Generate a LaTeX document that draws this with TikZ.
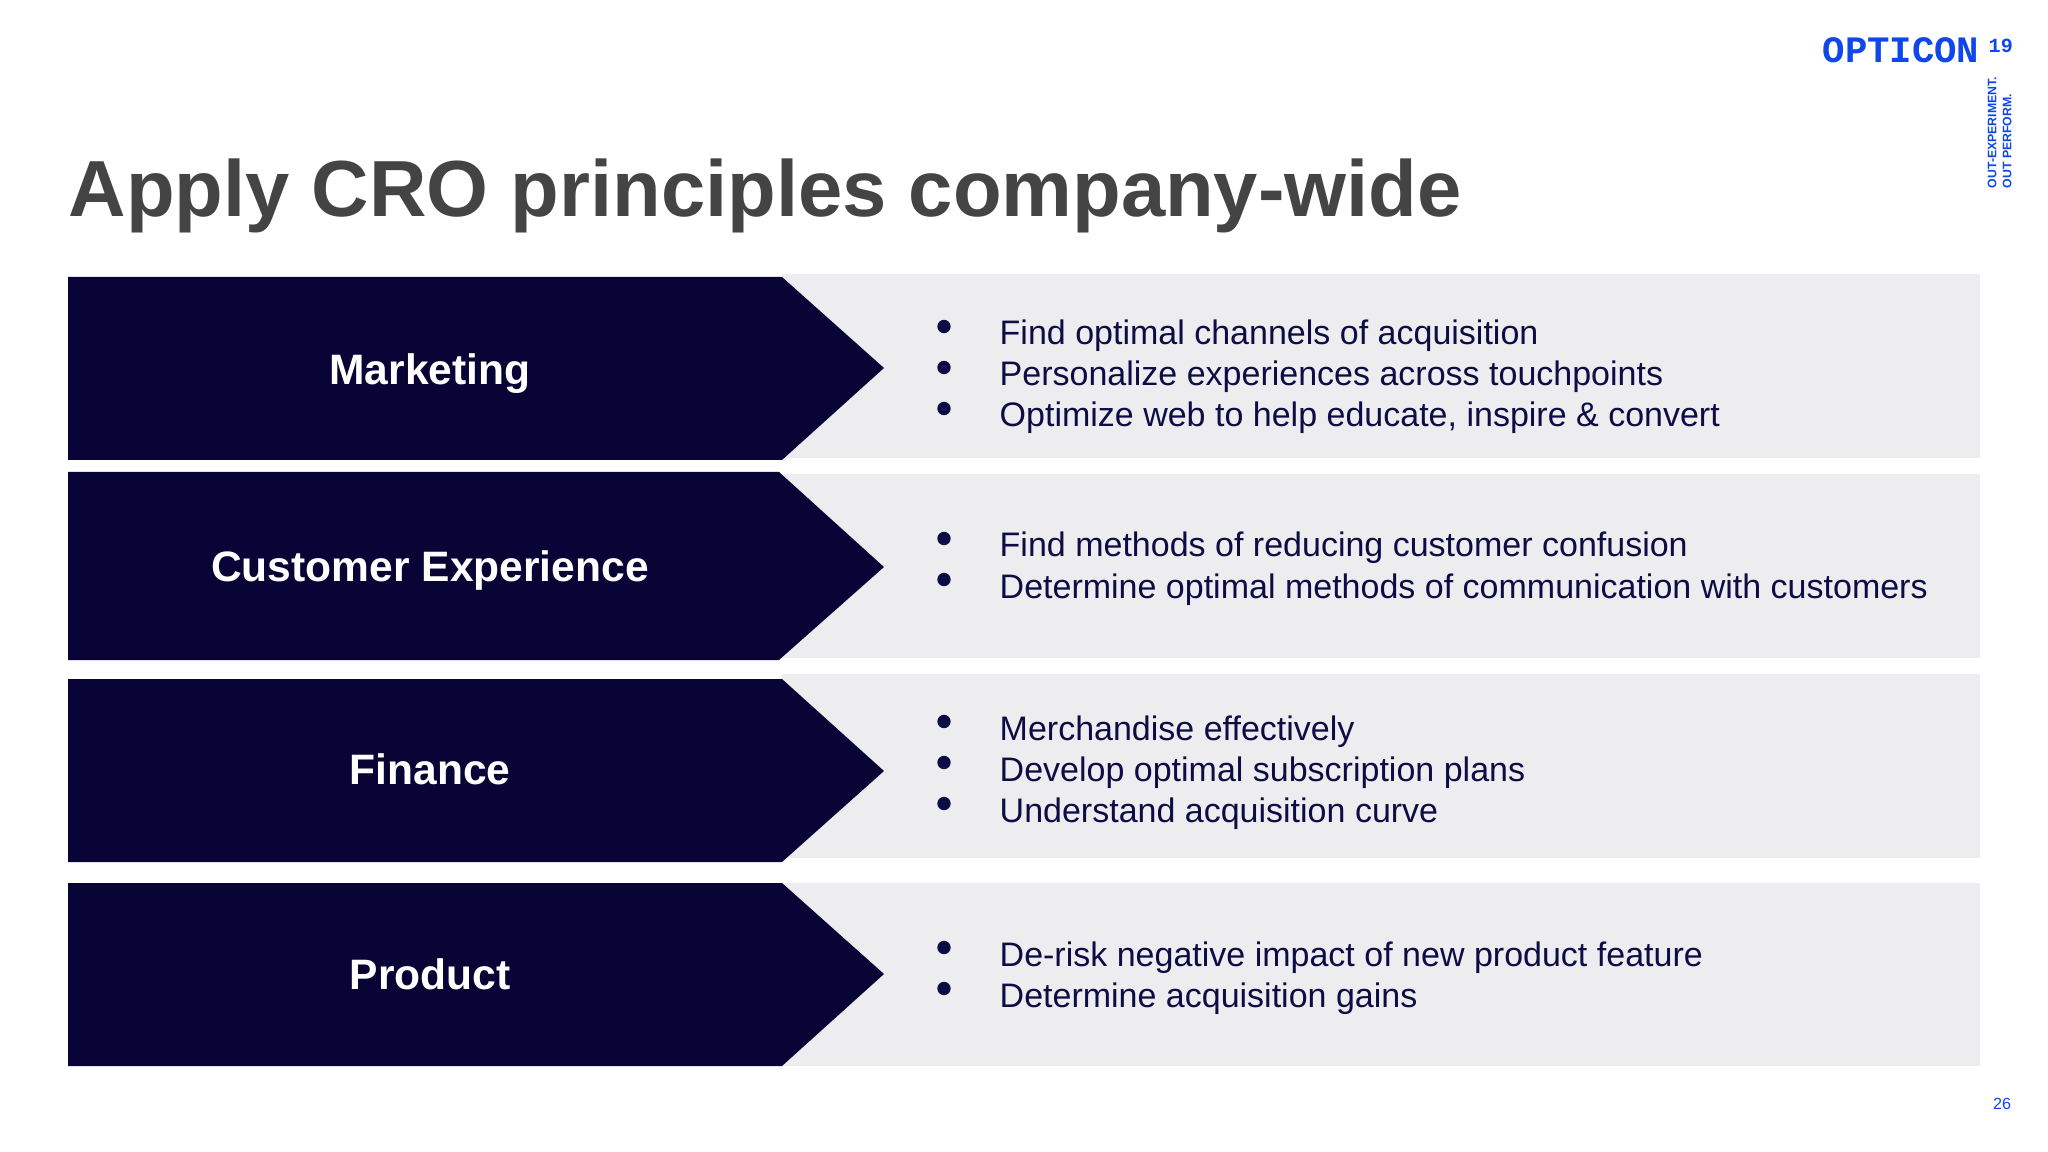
\documentclass[tikz,border=0pt]{standalone}
\usepackage{fontspec}
\setmainfont{Liberation Sans}
\setmonofont{Liberation Mono}
\usepackage{xcolor}
\definecolor{croNavy}{HTML}{080536}
\definecolor{croBand}{HTML}{EDEDEF}
\definecolor{croInk}{HTML}{0E0C44}
\definecolor{croTitle}{HTML}{444444}
\definecolor{croBlue}{HTML}{0F47EA}

\begin{document}
\begin{tikzpicture}[x=0.01cm, y=-0.01cm,
  band/.style={fill=croBand},
  arrowbox/.style={fill=croNavy},
  heading/.style={font=\bfseries\fontsize{12.1}{15}\selectfont, white, anchor=base, inner sep=0pt},
  item/.style={font=\fontsize{9.67}{12}\selectfont, croInk, anchor=base west, inner sep=0pt},
  bullet/.style={circle, fill=croInk, inner sep=0pt, minimum size=3.8pt},
  logo/.style={croBlue, inner sep=0pt}
]
\useasboundingbox (0,0) rectangle (2048,1152);
% ── Title ──────────────────────
\node[font=\bfseries\fontsize{22.63}{27}\selectfont, croTitle, anchor=base west, inner sep=0pt] (title) at (68,217) {Apply CRO principles company-wide};
% ── Logo ──────────────────────
\node[logo, font=\ttfamily\bfseries\fontsize{10.6}{12}\selectfont, anchor=base west] (opticon) at (1822,63) {OPTICON};
\node[logo, font=\ttfamily\bfseries\fontsize{5.7}{7}\selectfont, anchor=base west] (edition) at (1988,53) {19};
\node[logo, font=\bfseries\fontsize{3.5}{5}\selectfont, rotate=90, anchor=west] (tagone) at (1992,189) {OUT-EXPERIMENT.};
\node[logo, font=\bfseries\fontsize{3.5}{5}\selectfont, rotate=90, anchor=west] (tagtwo) at (2007,189) {OUT PERFORM.};
% ── Rows ──────────────────────
\foreach \bandtop/\bandbot/\top/\bot/\shoulder/\mid/\name/\base in {
  274/458/277/460/782/368/Marketing/385,
  474/658/472/660/779/567/Customer Experience/581,
  674/858/679/862/782/771/Finance/784,
  883/1066/883/1066/782/974/Product/989} {
  \fill[band] (782,\bandtop) rectangle (1980,\bandbot);
  \fill[arrowbox] (68,\top) -- (\shoulder,\top) -- (884,\mid) -- (\shoulder,\bot) -- (68,\bot) -- cycle;
  \node[heading] (head-\base) at (430,\base) {\name};
}
% ── Bullet lists ──────────────────────
\foreach \base/\entry in {
  345/Find optimal channels of acquisition,
  386/Personalize experiences across touchpoints,
  427/Optimize web to help educate{,} inspire \& convert,
  557/Find methods of reducing customer confusion,
  598/Determine optimal methods of communication with customers,
  740/Merchandise effectively,
  781/Develop optimal subscription plans,
  822/Understand acquisition curve,
  966/De-risk negative impact of new product feature,
  1007/Determine acquisition gains} {
  \node[bullet] (dot-\base) at (944,\base-18.5) {};
  \node[item] (item-\base) at (999,\base) {\entry};
}
% ── Page number ──────────────────────
\node[logo, font=\fontsize{4.6}{6}\selectfont] (page) at (2002,1104) {26};
\end{tikzpicture}
\end{document}
